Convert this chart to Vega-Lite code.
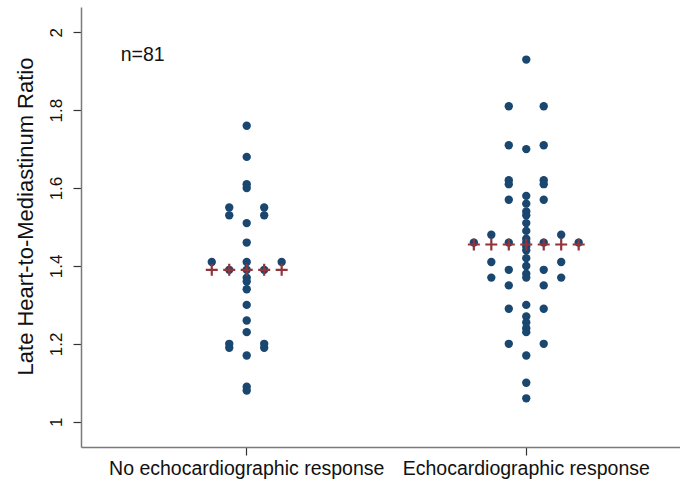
{
  "$schema": "https://vega.github.io/schema/vega-lite/v6.json",
  "width": 599,
  "height": 440,
  "autosize": {"type": "none"},
  "padding": {"left": 81, "top": 7, "right": 0, "bottom": 35},
  "background": "white",
  "config": {
    "view": {"stroke": null},
    "font": "Liberation Sans",
    "axis": {"grid": false, "domainColor": "#7a7a7a", "domainWidth": 1.5, "tickColor": "#333333", "tickWidth": 1.2, "tickSize": 8, "labelColor": "#111111", "titleColor": "#111111", "labelFont": "Liberation Sans", "titleFont": "Liberation Sans", "titleFontWeight": "normal", "labelLimit": 0}
  },
  "datasets": {
    "dots": [
      {"group": "No echocardiographic response", "col": 0, "v": 1.76},
      {"group": "No echocardiographic response", "col": 0, "v": 1.68},
      {"group": "No echocardiographic response", "col": 0, "v": 1.61},
      {"group": "No echocardiographic response", "col": 0, "v": 1.60},
      {"group": "No echocardiographic response", "col": 0, "v": 1.51},
      {"group": "No echocardiographic response", "col": 0, "v": 1.46},
      {"group": "No echocardiographic response", "col": 0, "v": 1.41},
      {"group": "No echocardiographic response", "col": 0, "v": 1.39},
      {"group": "No echocardiographic response", "col": 0, "v": 1.37},
      {"group": "No echocardiographic response", "col": 0, "v": 1.36},
      {"group": "No echocardiographic response", "col": 0, "v": 1.34},
      {"group": "No echocardiographic response", "col": 0, "v": 1.30},
      {"group": "No echocardiographic response", "col": 0, "v": 1.26},
      {"group": "No echocardiographic response", "col": 0, "v": 1.23},
      {"group": "No echocardiographic response", "col": 0, "v": 1.17},
      {"group": "No echocardiographic response", "col": 0, "v": 1.09},
      {"group": "No echocardiographic response", "col": 0, "v": 1.08},
      {"group": "No echocardiographic response", "col": -1, "v": 1.55},
      {"group": "No echocardiographic response", "col": -1, "v": 1.53},
      {"group": "No echocardiographic response", "col": -1, "v": 1.39},
      {"group": "No echocardiographic response", "col": -1, "v": 1.20},
      {"group": "No echocardiographic response", "col": -1, "v": 1.19},
      {"group": "No echocardiographic response", "col": 1, "v": 1.55},
      {"group": "No echocardiographic response", "col": 1, "v": 1.53},
      {"group": "No echocardiographic response", "col": 1, "v": 1.39},
      {"group": "No echocardiographic response", "col": 1, "v": 1.20},
      {"group": "No echocardiographic response", "col": 1, "v": 1.19},
      {"group": "No echocardiographic response", "col": -2, "v": 1.41},
      {"group": "No echocardiographic response", "col": 2, "v": 1.41},
      {"group": "Echocardiographic response", "col": 0, "v": 1.93},
      {"group": "Echocardiographic response", "col": 0, "v": 1.70},
      {"group": "Echocardiographic response", "col": 0, "v": 1.58},
      {"group": "Echocardiographic response", "col": 0, "v": 1.56},
      {"group": "Echocardiographic response", "col": 0, "v": 1.54},
      {"group": "Echocardiographic response", "col": 0, "v": 1.53},
      {"group": "Echocardiographic response", "col": 0, "v": 1.51},
      {"group": "Echocardiographic response", "col": 0, "v": 1.49},
      {"group": "Echocardiographic response", "col": 0, "v": 1.47},
      {"group": "Echocardiographic response", "col": 0, "v": 1.46},
      {"group": "Echocardiographic response", "col": 0, "v": 1.45},
      {"group": "Echocardiographic response", "col": 0, "v": 1.44},
      {"group": "Echocardiographic response", "col": 0, "v": 1.42},
      {"group": "Echocardiographic response", "col": 0, "v": 1.40},
      {"group": "Echocardiographic response", "col": 0, "v": 1.38},
      {"group": "Echocardiographic response", "col": 0, "v": 1.37},
      {"group": "Echocardiographic response", "col": 0, "v": 1.30},
      {"group": "Echocardiographic response", "col": 0, "v": 1.27},
      {"group": "Echocardiographic response", "col": 0, "v": 1.255},
      {"group": "Echocardiographic response", "col": 0, "v": 1.24},
      {"group": "Echocardiographic response", "col": 0, "v": 1.23},
      {"group": "Echocardiographic response", "col": 0, "v": 1.17},
      {"group": "Echocardiographic response", "col": 0, "v": 1.10},
      {"group": "Echocardiographic response", "col": 0, "v": 1.06},
      {"group": "Echocardiographic response", "col": -1, "v": 1.81},
      {"group": "Echocardiographic response", "col": -1, "v": 1.71},
      {"group": "Echocardiographic response", "col": -1, "v": 1.62},
      {"group": "Echocardiographic response", "col": -1, "v": 1.61},
      {"group": "Echocardiographic response", "col": -1, "v": 1.57},
      {"group": "Echocardiographic response", "col": -1, "v": 1.46},
      {"group": "Echocardiographic response", "col": -1, "v": 1.39},
      {"group": "Echocardiographic response", "col": -1, "v": 1.35},
      {"group": "Echocardiographic response", "col": -1, "v": 1.29},
      {"group": "Echocardiographic response", "col": -1, "v": 1.20},
      {"group": "Echocardiographic response", "col": 1, "v": 1.81},
      {"group": "Echocardiographic response", "col": 1, "v": 1.71},
      {"group": "Echocardiographic response", "col": 1, "v": 1.62},
      {"group": "Echocardiographic response", "col": 1, "v": 1.61},
      {"group": "Echocardiographic response", "col": 1, "v": 1.57},
      {"group": "Echocardiographic response", "col": 1, "v": 1.46},
      {"group": "Echocardiographic response", "col": 1, "v": 1.39},
      {"group": "Echocardiographic response", "col": 1, "v": 1.35},
      {"group": "Echocardiographic response", "col": 1, "v": 1.29},
      {"group": "Echocardiographic response", "col": 1, "v": 1.20},
      {"group": "Echocardiographic response", "col": -2, "v": 1.48},
      {"group": "Echocardiographic response", "col": -2, "v": 1.41},
      {"group": "Echocardiographic response", "col": -2, "v": 1.37},
      {"group": "Echocardiographic response", "col": 2, "v": 1.48},
      {"group": "Echocardiographic response", "col": 2, "v": 1.41},
      {"group": "Echocardiographic response", "col": 2, "v": 1.37},
      {"group": "Echocardiographic response", "col": -3, "v": 1.46},
      {"group": "Echocardiographic response", "col": 3, "v": 1.46}
    ],
    "medians": [
      {"group": "No echocardiographic response", "col": -2, "v": 1.39},
      {"group": "No echocardiographic response", "col": -1, "v": 1.39},
      {"group": "No echocardiographic response", "col": 0, "v": 1.39},
      {"group": "No echocardiographic response", "col": 1, "v": 1.39},
      {"group": "No echocardiographic response", "col": 2, "v": 1.39},
      {"group": "Echocardiographic response", "col": -3, "v": 1.455},
      {"group": "Echocardiographic response", "col": -2, "v": 1.455},
      {"group": "Echocardiographic response", "col": -1, "v": 1.455},
      {"group": "Echocardiographic response", "col": 0, "v": 1.455},
      {"group": "Echocardiographic response", "col": 1, "v": 1.455},
      {"group": "Echocardiographic response", "col": 2, "v": 1.455},
      {"group": "Echocardiographic response", "col": 3, "v": 1.455}
    ],
    "notes": [
      {"group": "No echocardiographic response", "col": -7.21, "v": 1.926, "label": "n=81"}
    ]
  },
  "encoding": {
    "x": {
      "field": "group", "type": "nominal",
      "scale": {"domain": ["No echocardiographic response", "Echocardiographic response"], "paddingInner": 0, "paddingOuter": 0.0714, "align": 0.65},
      "axis": {"title": null, "labelAngle": 0, "labelFontSize": 19.5, "labelPadding": 4, "labelBaseline": "top"}
    },
    "xOffset": {"field": "col", "type": "quantitative", "scale": {"domain": [-8, 8]}},
    "y": {
      "field": "v", "type": "quantitative",
      "scale": {"domain": [0.935, 2.065], "nice": false, "zero": false},
      "axis": {"title": "Late Heart-to-Mediastinum Ratio", "values": [1, 1.2, 1.4, 1.6, 1.8, 2], "format": ".2~f", "labelAngle": -90, "labelAlign": "center", "labelBaseline": "alphabetic", "labelPadding": 12, "labelFontSize": 17, "titleFontSize": 22, "titleAngle": -90, "titleAlign": "center", "titleBaseline": "alphabetic", "titleX": -49, "titleY": 209}
    }
  },
  "layer": [
    {
      "data": {"name": "dots"},
      "mark": {"type": "circle", "size": 70, "color": "#1a476f", "opacity": 1}
    },
    {
      "data": {"name": "medians"},
      "mark": {"type": "point", "shape": "M-1,0H1M0,-1V1", "size": 144, "filled": false, "stroke": "#90353b", "strokeWidth": 2.2, "opacity": 1}
    },
    {
      "data": {"name": "notes"},
      "mark": {"type": "text", "align": "left", "baseline": "alphabetic", "fontSize": 19.5, "color": "#111111"},
      "encoding": {"text": {"field": "label"}}
    }
  ]
}
